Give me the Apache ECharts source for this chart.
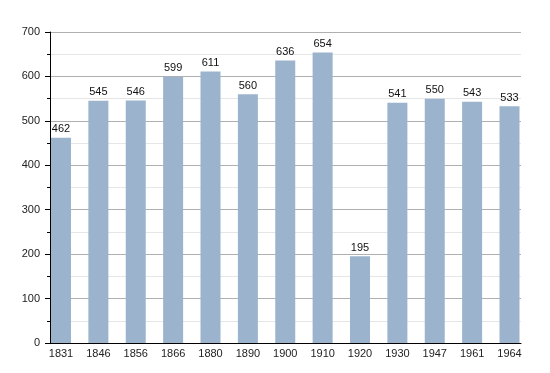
<!DOCTYPE html>
<html><head><meta charset="utf-8">
<script src="https://cdn.jsdelivr.net/npm/echarts@6/dist/echarts.min.js"></script>
<style>html,body{margin:0;padding:0;background:#fff}#c{width:550px;height:373px}</style>
</head><body><div id="c"></div>
<script>
const categories = ['1831','1846','1856','1866','1880','1890','1900','1910','1920','1930','1947','1961','1964'];
const population = [462,545,546,599,611,560,636,654,195,541,550,543,533];
const yTicks = [0,100,200,300,400,500,600,700];

const font = 'Liberation Sans, Arial, sans-serif';
const chart = echarts.init(document.getElementById('c'), null, {renderer:'canvas'});
chart.setOption({
  animation:false,
  backgroundColor:'#fff',
  grid:[
    {left:50,right:29,top:32,bottom:30},
    {left:61,right:40.5,top:32,bottom:30}
  ],
  xAxis:[
    {gridIndex:0,type:'value',min:0,max:1,
     axisLine:{show:true,lineStyle:{color:'#000',width:1}},
     axisTick:{show:false},axisLabel:{show:false},splitLine:{show:false}},
    {gridIndex:1,type:'category',data:categories,boundaryGap:false,
     axisLine:{show:false},axisTick:{show:false},
     axisLabel:{color:'#222',fontFamily:font,fontSize:11,margin:5},
     splitLine:{show:false}}
  ],
  yAxis:[
    {gridIndex:0,type:'value',min:yTicks[0],max:yTicks[yTicks.length-1],interval:100,
     axisLine:{show:true,lineStyle:{color:'#000',width:1}},
     axisTick:{show:true,length:5,lineStyle:{color:'#000'}},
     minorTick:{show:true,splitNumber:2,length:3,lineStyle:{color:'#000'}},
     axisLabel:{color:'#222',fontFamily:font,fontSize:11,margin:10},
     splitLine:{show:true,lineStyle:{color:'#b0b0b0',width:1}},
     minorSplitLine:{show:true,lineStyle:{color:'#e6e6e6',width:1}}},
    {gridIndex:1,type:'value',min:yTicks[0],max:yTicks[yTicks.length-1],interval:100,show:false}
  ],
  series:[{
    type:'bar', xAxisIndex:1, yAxisIndex:1, data:population, barWidth:20,
    itemStyle:{color:'#9bb3cc'},
    label:{show:true,position:'top',distance:3,color:'#111',fontFamily:font,fontSize:11}
  }]
});
</script></body></html>
